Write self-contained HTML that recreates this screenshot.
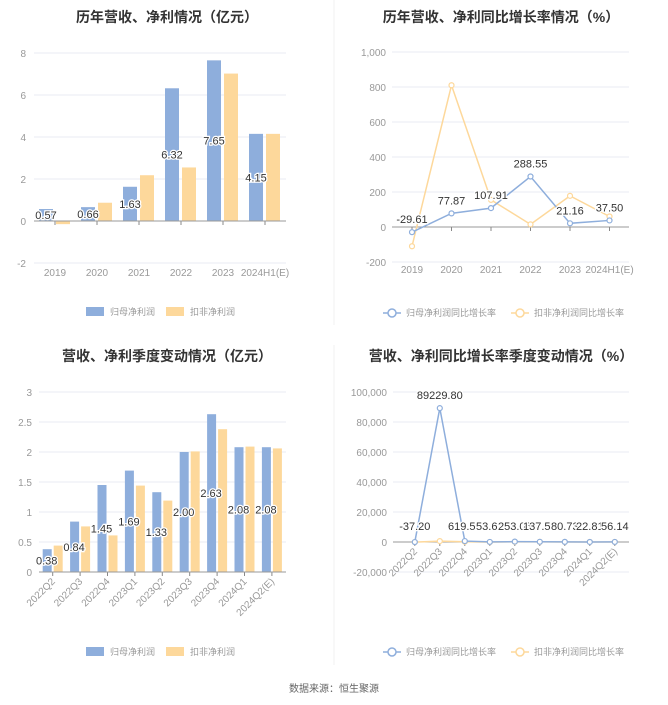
<!DOCTYPE html>
<html><head><meta charset="utf-8"><style>
body{margin:0;background:#fff;}
svg text{font-family:"Liberation Sans","Noto Sans CJK SC",sans-serif;}
</style></head><body>
<svg id="s" width="668" height="700" xmlns="http://www.w3.org/2000/svg"></svg>
<script>
var s='';
function t(x,y,txt,o){o=o||{};s+='<text x="'+x+'" y="'+y+'" font-size="'+(o.fs||10)+'" fill="'+(o.c||'#999')+'" text-anchor="'+(o.a||'middle')+'"'+(o.w?' font-weight="bold"':'')+(o.tr?' transform="'+o.tr+'"':'')+(o.st?' stroke="#fff" stroke-width="2.5" paint-order="stroke"':'')+'>'+txt+'</text>';}
function l(x1,y1,x2,y2,c,w){s+='<line x1="'+x1+'" y1="'+y1+'" x2="'+x2+'" y2="'+y2+'" stroke="'+c+'" stroke-width="'+(w||1)+'"/>';}
function r(x,y,w,h,c){if(h<0){y+=h;h=-h;}s+='<rect x="'+x+'" y="'+y+'" width="'+w+'" height="'+h+'" fill="'+c+'"/>';}
var B='#8eaedc',O='#fdd89b';
l(334,0,334,325,'#f0f0f0');l(334,345,334,665,'#f0f0f0');
t(167,22,'历年营收、净利情况（亿元）',{fs:14,w:1,c:'#333'});
t(501,22,'历年营收、净利同比增长率情况（%）',{fs:14,w:1,c:'#333'});
t(167,361,'营收、净利季度变动情况（亿元）',{fs:14,w:1,c:'#333'});
t(501,361,'营收、净利同比增长率季度变动情况（%）',{fs:14,w:1,c:'#333'});
(function(){var z=221,u=21,x0=34,x1=286;
for(var v=-2;v<=8;v+=2){var y=z-v*u;if(v)l(x0,y,x1,y,'#e8ebf3');t(26,y+4,v,{a:'end'});}
var c=['2019','2020','2021','2022','2023','2024H1(E)'],b=[0.57,0.66,1.63,6.32,7.65,4.15],o=[-0.15,0.87,2.18,2.55,7.02,4.15];
for(var i=0;i<6;i++){var cx=55+42*i;r(cx-16,z,14,-b[i]*u,B);r(cx+1,z,14,-o[i]*u,O);l(cx,z,cx,z+4,'#888');t(cx,z+55,c[i]);}
l(x0,z,x1,z,'#999');
for(var i=0;i<6;i++){var cx=55+42*i;t(cx-9,z-b[i]*u/2+4,b[i].toFixed(2),{c:'#333',st:1,fs:11});}
r(86,307,18,9,B);t(110,315,'归母净利润',{a:'start',fs:9});r(166,307,18,9,O);t(190,315,'扣非净利润',{a:'start',fs:9});
})();
(function(){var z=227,u=35/200,x0=392,x1=629;
for(var v=-200;v<=1000;v+=200){var y=z-v*u;if(v)l(x0,y,x1,y,'#e8ebf3');t(386,y+4,v==1000?'1,000':v,{a:'end'});}
var c=['2019','2020','2021','2022','2023','2024H1(E)'],b=[-29.61,77.87,107.91,288.55,21.16,37.50],o=[-110,810,155,15,178,60];
l(x0,z,x1,z,'#999');
function line(a,col){var p=a.map(function(v,i){return (412+39.5*i)+','+(z-v*u)}).join(' ');s+='<polyline points="'+p+'" fill="none" stroke="'+col+'" stroke-width="1.5"/>';a.forEach(function(v,i){s+='<circle cx="'+(412+39.5*i)+'" cy="'+(z-v*u)+'" r="2.5" fill="#fff" stroke="'+col+'" stroke-width="1.2"/>';});}
for(var i=0;i<6;i++){var cx=412+39.5*i;l(cx,z,cx,z+4,'#888');t(cx,z+46,c[i]);}
line(o,O);line(b,B);
for(var i=0;i<6;i++){t(412+39.5*i,z-b[i]*u-9,b[i].toFixed(2),{c:'#333',st:1,fs:11});}
s+='<line x1="383" y1="313" x2="401" y2="313" stroke="'+B+'" stroke-width="1.5"/><circle cx="392" cy="313" r="4" fill="#fff" stroke="'+B+'" stroke-width="1.5"/>';t(406,316,'归母净利润同比增长率',{a:'start',fs:9});
s+='<line x1="511" y1="313" x2="529" y2="313" stroke="'+O+'" stroke-width="1.5"/><circle cx="520" cy="313" r="4" fill="#fff" stroke="'+O+'" stroke-width="1.5"/>';t(534,316,'扣非净利润同比增长率',{a:'start',fs:9});
})();
var Q=['2022Q2','2022Q3','2022Q4','2023Q1','2023Q2','2023Q3','2023Q4','2024Q1','2024Q2(E)'];
(function(){var z=572,u=60,x0=39,x1=286;
for(var v=0;v<=3;v+=0.5){var y=z-v*u;if(v)l(x0,y,x1,y,'#e8ebf3');t(32,y+4,v,{a:'end'});}
var b=[0.38,0.84,1.45,1.69,1.33,2.00,2.63,2.08,2.08],o=[0.44,0.76,0.61,1.44,1.19,2.01,2.38,2.09,2.06];
for(var i=0;i<9;i++){var cx=52.7+27.4*i;r(cx-10,z,9,-b[i]*u,B);r(cx+1,z,9,-o[i]*u,O);l(cx,z,cx,z+4,'#888');t(cx+3,z+10,Q[i],{a:'end',tr:'rotate(-45 '+(cx+3)+' '+(z+10)+')'});}
l(x0,z,x1,z,'#999');
for(var i=0;i<9;i++){var cx=52.7+27.4*i;t(cx-6,z-b[i]*u/2+4,b[i].toFixed(2),{c:'#333',st:1,fs:11});}
r(86,647,18,9,B);t(110,655,'归母净利润',{a:'start',fs:9});r(166,647,18,9,O);t(190,655,'扣非净利润',{a:'start',fs:9});
})();
(function(){var z=542,u=30/20000,x0=393,x1=629;
for(var v=-20000;v<=100000;v+=20000){var y=z-v*u;if(v)l(x0,y,x1,y,'#e8ebf3');t(387,y+4,v.toLocaleString('en-US'),{a:'end'});}
var b=[-37.2,89229.8,619.56,53.61,253.06,137.58,80.73,22.81,56.14],o=[-50,600,200,-60,100,80,40,30,40];
l(x0,z,x1,z,'#999');
function X(i){return 414.8+25*i;}
function line(a,col){var p=a.map(function(v,i){return X(i)+','+(z-v*u)}).join(' ');s+='<polyline points="'+p+'" fill="none" stroke="'+col+'" stroke-width="1.5"/>';a.forEach(function(v,i){s+='<circle cx="'+X(i)+'" cy="'+(z-v*u)+'" r="2.5" fill="#fff" stroke="'+col+'" stroke-width="1.2"/>';});}
for(var i=0;i<9;i++){l(X(i),z,X(i),z+4,'#888');t(X(i)+3,z+10,Q[i],{a:'end',tr:'rotate(-45 '+(X(i)+3)+' '+(z+10)+')'});}
line(o,O);line(b,B);
for(var i=0;i<9;i++){var y=i==1?z-b[i]*u-9:z-12;t(X(i),y,b[i].toFixed(2),{c:'#333',st:1,fs:11});}
s+='<line x1="383" y1="652" x2="401" y2="652" stroke="'+B+'" stroke-width="1.5"/><circle cx="392" cy="652" r="4" fill="#fff" stroke="'+B+'" stroke-width="1.5"/>';t(406,655,'归母净利润同比增长率',{a:'start',fs:9});
s+='<line x1="511" y1="652" x2="529" y2="652" stroke="'+O+'" stroke-width="1.5"/><circle cx="520" cy="652" r="4" fill="#fff" stroke="'+O+'" stroke-width="1.5"/>';t(534,655,'扣非净利润同比增长率',{a:'start',fs:9});
})();
t(334,692,'数据来源：恒生聚源',{fs:10,c:'#666'});
document.getElementById('s').innerHTML=s;
</script>
</body></html>
